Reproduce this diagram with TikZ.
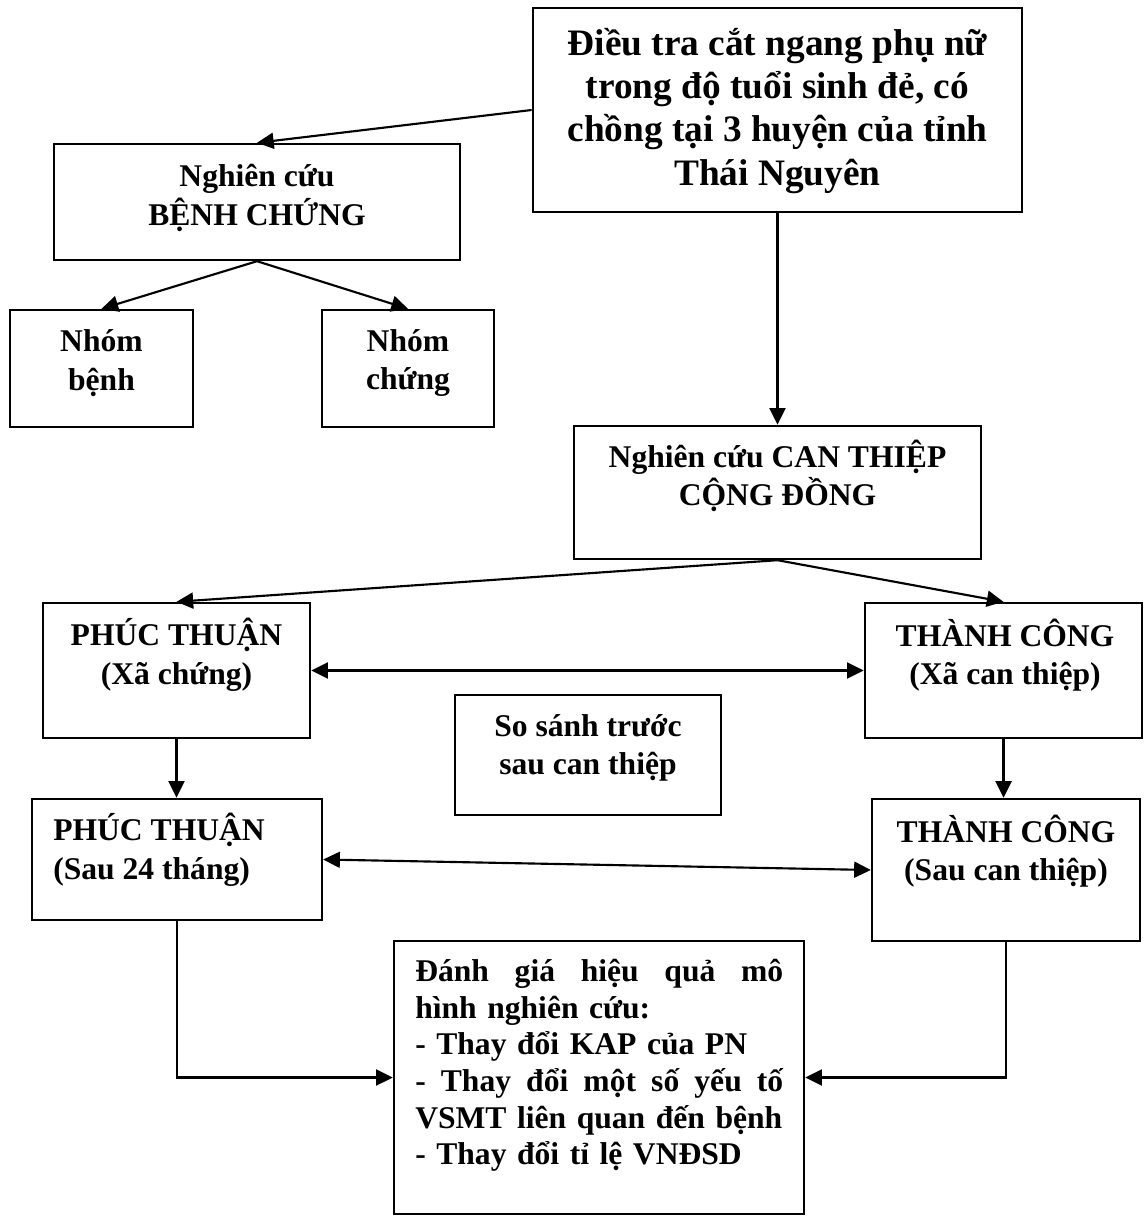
\documentclass[tikz,border=0pt]{standalone}
\usepackage{fontspec}
\setmainfont{Liberation Serif}
\setlength{\parindent}{0pt}
\usetikzlibrary{arrows.meta,fit,calc}
\begin{document}
\begin{tikzpicture}[x=0.75pt,y=-0.75pt,
  box/.style={draw, line width=1.8pt, inner sep=0pt, rectangle},
  txt/.style={align=center, inner sep=0pt, font=\bfseries\fontsize{23.7}{29}\selectfont},
  bigtxt/.style={align=center, inner sep=0pt, font=\bfseries\fontsize{28}{32.3}\selectfont},
  arr/.style={line width=1.6pt, -{Triangle[length=12.5pt,width=12pt]}},
  darr/.style={line width=1.6pt, {Triangle[length=12.5pt,width=12pt]}-{Triangle[length=12.5pt,width=12pt]}}]
\useasboundingbox (0,0) rectangle (1144,1216);
% boxes
\node[box, line width=2.1pt, fit={(533,8) (1022,212)}] (top) {};
\node[box, fit={(54,144) (460,260)}] (bc) {};
\node[box, fit={(10,310) (193,427)}] (nb) {};
\node[box, fit={(322,310) (494,427)}] (nc) {};
\node[box, fit={(574,426) (981,559)}] (ct) {};
\node[box, fit={(43,603) (310,738)}] (pt1) {};
\node[box, fit={(865,603) (1142,738)}] (tc1) {};
\node[box, fit={(455,695) (721,815)}] (ss) {};
\node[box, fit={(32,799) (322,920)}] (pt2) {};
\node[box, fit={(872,799) (1140,941)}] (tc2) {};
\node[box, fit={(394,941) (804,1214)}] (dg) {};
% texts
\node[bigtxt] (topT) at (777.5,111) {Điều tra cắt ngang phụ nữ\\trong độ tuổi sinh đẻ, có\\chồng tại 3 huyện của tỉnh\\Thái Nguyên};
\node[txt] (bcT) at (257,198) {Nghiên cứu\\BỆNH CHỨNG};
\node[txt] (nbT) at (101.5,363) {Nhóm\\bệnh};
\node[txt] (ncT) at (408,363) {Nhóm\\chứng};
\node[txt] (ctT) at (777.5,476) {Nghiên cứu CAN THIỆP\\CỘNG ĐỒNG};
\node[txt] (pt1T) at (176.5,655) {PHÚC THUẬN\\(Xã chứng)};
\node[txt] (tc1T) at (1005,655) {THÀNH CÔNG\\(Xã can thiệp)};
\node[txt] (ssT) at (588,748) {So sánh trước\\sau can thiệp};
\node[txt, align=left, anchor=west] (pt2T) at (53,850) {PHÚC THUẬN\\(Sau 24 tháng)};
\node[txt] (tc2T) at (1006,851) {THÀNH CÔNG\\(Sau can thiệp)};
\node[inner sep=0pt, anchor=north west, text width=276pt, align=left,
      font=\bfseries\fontsize{23.7}{27.5}\selectfont] (dgT) at (415,959)
  {Đánh\hfill giá\hfill hiệu\hfill quả\hfill mô\\
   hình nghiên cứu:\\
   - Thay đổi KAP của PN\\
   -\hfill Thay\hfill đổi\hfill một\hfill số\hfill yếu\hfill tố\\
   VSMT liên quan đến bệnh\\
   - Thay đổi tỉ lệ VNĐSD};
% connectors
\draw[arr] (top.west) -- (bc.north);
\draw[arr] (bc.south) -- (nb.north);
\draw[arr] (bc.south) -- (nc.north);
\draw[arr] (top.south) -- (ct.north);
\draw[arr] (ct.south) -- (pt1.north);
\draw[arr] (ct.south) -- (tc1.north);
\draw[darr] (pt1.east) -- (tc1.west);
\draw[arr] (pt1.south) -- (pt1.south |- pt2.north);
\draw[arr] (tc1.south) -- (tc1.south |- tc2.north);
\draw[darr] (pt2.east) -- (tc2.west);
\draw[arr] (pt2.south) |- (dg.west);
\draw[arr] (tc2.south) |- (dg.east);
\end{tikzpicture}
\end{document}
